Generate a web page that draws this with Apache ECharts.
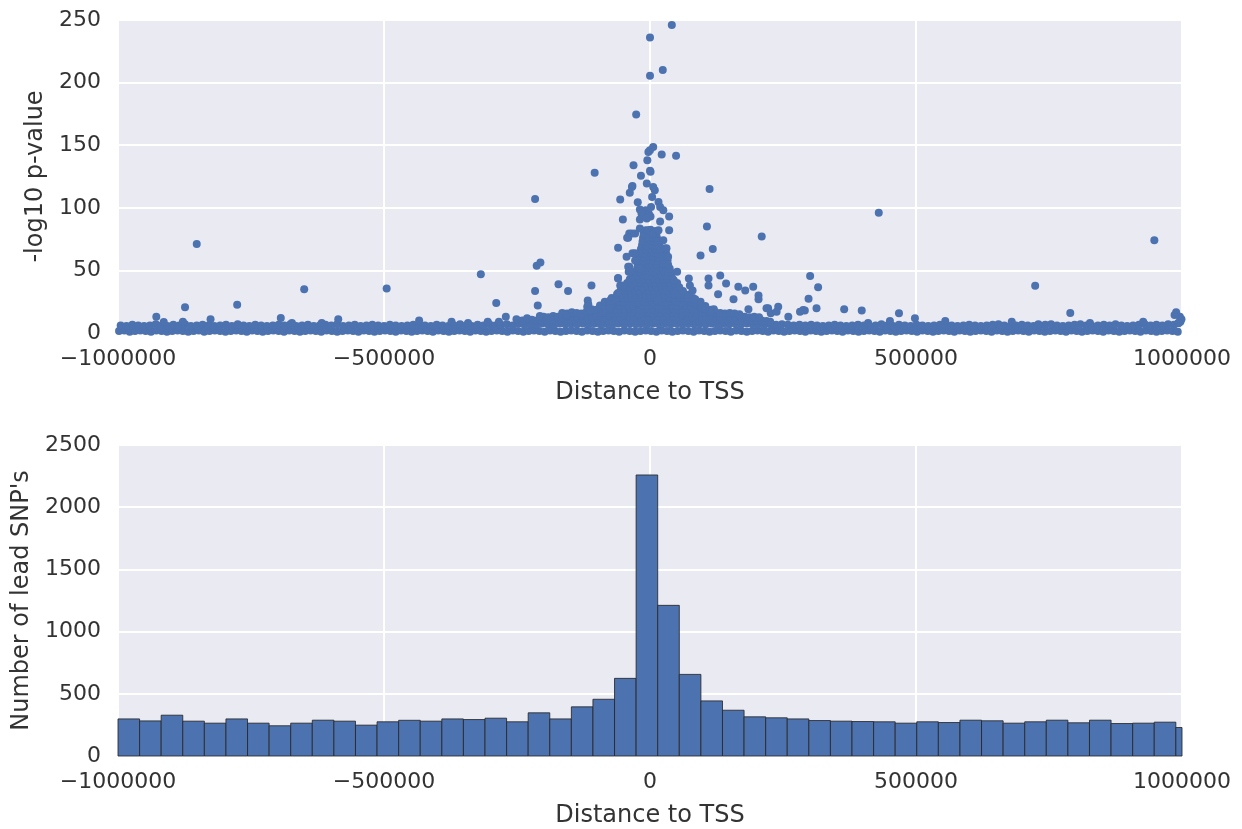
<!DOCTYPE html>
<html>
<head>
<meta charset="utf-8">
<script src="https://cdn.jsdelivr.net/npm/echarts@6/dist/echarts.min.js"></script>
<style>
html,body{margin:0;padding:0;background:#fff;}
#chart{width:1242px;height:829px;}
</style>
</head>
<body>
<div id="chart"></div>
<script>
// ---------- DATA ----------
const xAxisTitle = 'Distance to TSS';
const topYTitle = '-log10 p-value';
const bottomYTitle = "Number of lead SNP's";

// Scatter: [distance to TSS in kb, -log10 p-value]
// dense low band, bottom row
const bandLowKb = [
[-998,1.5],[-988,2],[-978,1],[-968,1.5],[-958,2],[-948,1.5],[-938,1],[-928,2],[-918,1.5],[-908,1],[-898,1.5],[-888,2],[-878,1.5],[-868,1],[-858,1.5],[-848,2],[-838,1],[-828,1.5],[-818,2],[-808,1.5],
[-798,1],[-788,1.5],[-778,2],[-768,1.5],[-758,1],[-748,2],[-738,1.5],[-728,1],[-718,1.5],[-708,2],[-698,1.5],[-688,1],[-678,2],[-668,1.5],[-658,1],[-648,1.5],[-638,2],[-628,1.5],[-618,1],[-608,2],
[-598,1.5],[-588,1],[-578,1.5],[-568,2],[-558,1.5],[-548,1],[-538,2],[-528,1.5],[-518,1],[-508,1.5],[-498,2],[-488,1.5],[-478,1],[-468,2],[-458,1.5],[-448,1],[-438,1.5],[-428,2],[-418,1.5],[-408,1],
[-398,2],[-388,1.5],[-378,1],[-368,1.5],[-358,2],[-348,1.5],[-338,1],[-328,2],[-318,1.5],[-308,1],[-298,1.5],[-288,2],[-278,1.5],[-268,1],[-258,2],[-248,1.5],[-238,1],[-228,1.5],[-218,2],[-208,1.5],
[-198,1],[-188,2],[-178,1.5],[-168,1],[-158,1.5],[-148,2],[-138,1.5],[-128,1],[-118,2],[-108,1.5],[-98,1],[-88,1.5],[-78,2],[-68,1.5],[-58,1],[-48,2],[-38,1.5],[-28,1],[-18,1.5],[-8,2],
[2,1.5],[12,1],[22,2],[32,1.5],[42,1],[52,1.5],[62,2],[72,1.5],[82,1],[92,2],[102,1.5],[112,1],[122,1.5],[132,2],[142,1.5],[152,1],[162,2],[172,1.5],[182,1],[192,1.5],
[202,2],[212,1.5],[222,1],[232,2],[242,1.5],[252,1],[262,1.5],[272,2],[282,1.5],[292,1],[302,2],[312,1.5],[322,1],[332,1.5],[342,2],[352,1.5],[362,1],[372,2],[382,1.5],[392,1],
[402,1.5],[412,2],[422,1.5],[432,1],[442,2],[452,1.5],[462,1],[472,1.5],[482,2],[492,1.5],[502,1],[512,2],[522,1.5],[532,1],[542,1.5],[552,2],[562,1.5],[572,1],[582,2],[592,1.5],
[602,1],[612,1.5],[622,2],[632,1.5],[642,1],[652,2],[662,1.5],[672,1],[682,1.5],[692,2],[702,1.5],[712,1],[722,2],[732,1.5],[742,1],[752,1.5],[762,2],[772,1.5],[782,1],[792,2],
[802,1.5],[812,1],[822,1.5],[832,2],[842,1.5],[852,1],[862,2],[872,1.5],[882,1],[892,1.5],[902,2],[912,1.5],[922,1],[932,2],[942,1.5],[952,1],[962,1.5],[972,2],[982,1.5],[992,1]
];
// dense low band, upper row (uneven top edge)
const bandHighKb = [
[-995,6],[-984,5.5],[-973,6.5],[-962,6],[-951,5.5],[-940,6],[-929,7],[-918,6],[-907,5.5],[-896,6.5],[-885,6],[-874,7],[-863,5.5],[-852,6],[-841,6.5],[-830,6],[-819,5.5],[-808,6],[-797,6.5],[-786,5.5],
[-775,7],[-764,6],[-753,5.5],[-742,6.5],[-731,6],[-720,5.5],[-709,6],[-698,6.5],[-687,6],[-676,7],[-665,5.5],[-654,6],[-643,6.5],[-632,5.5],[-621,6],[-610,6.5],[-599,6],[-588,7],[-577,5.5],[-566,6],
[-555,6.5],[-544,5.5],[-533,6],[-522,6.5],[-511,6],[-500,5.5],[-489,6.5],[-478,6],[-467,5.5],[-456,6],[-445,6.5],[-434,7],[-423,6],[-412,5.5],[-401,6.5],[-390,6],[-379,5.5],[-368,6],[-357,7],[-346,6],
[-335,5.5],[-324,6.5],[-313,6],[-302,7],[-291,6],[-280,6.5],[-269,7],[-258,6],[-247,7.5],[-236,6.5],[-225,7],[-214,6.5],[-203,7.5],[-192,7],[-181,6.5],[-170,7.5],[-159,7],[-148,7.5],[-137,7],[-126,7.5],
[-115,7],[-104,7.5],[-93,7],[-82,7.5],[-71,7],[-60,7.5],[-49,7],[-38,7.5],[-27,7],[-16,7.5],[-5,7],[6,7.5],[17,7],[28,7.5],[39,7],[50,7.5],[61,7],[72,7.5],[83,7],[94,7.5],
[105,7],[116,7.5],[127,7],[138,7.5],[149,7],[160,7.5],[171,7],[182,7.5],[193,7],[204,7],[215,6.5],[226,7],[237,6.5],[248,7],[259,6.5],[270,6],[281,6.5],[292,6],[303,6.5],[314,6],
[325,5.5],[336,6],[347,6.5],[358,6],[369,5.5],[380,6],[391,6.5],[402,6],[413,5.5],[424,6],[435,7],[446,6],[457,5.5],[468,6.5],[479,6],[490,5.5],[501,6.5],[512,6],[523,5.5],[534,6],
[545,6.5],[556,7],[567,6],[578,5.5],[589,6],[600,6.5],[611,6],[622,5.5],[633,6],[644,6.5],[655,7],[666,6],[677,5.5],[688,6],[699,6.5],[710,6],[721,5.5],[732,6],[743,6.5],[754,7],
[765,6],[776,5.5],[787,6],[798,6.5],[809,7],[820,6],[831,5.5],[842,6],[853,6.5],[864,6],[875,7],[886,6],[897,5.5],[908,6],[919,6.5],[930,7],[941,6],[952,6.5],[963,6],[974,7],
[985,6.5],[993,8],[997,9],[999,11],[996,13]
];
// dense cloud around the TSS
const coreKb = [
[-240,10],[-231,9.5],[-222,10.5],[-213,10],[-204,9.5],[-195,10.5],[-186,10],[-177,9.5],[-168,10.5],[-159,10],[-150,9.5],[-141,10.5],[-132,10],[-123,9.5],[-114,10.5],[-105,10],[-96,9.5],[-87,10.5],[-78,10],[-69,9.5],
[-60,10.5],[-51,10],[-42,9.5],[-33,10.5],[-24,10],[-15,9.5],[-6,10.5],[3,10],[12,9.5],[21,10.5],[30,10],[39,9.5],[48,10.5],[57,10],[66,9.5],[75,10.5],[84,10],[93,9.5],[102,10.5],[111,10],
[120,9.5],[129,10.5],[138,10],[147,9.5],[156,10.5],[165,10],[174,9.5],[183,10.5],[192,10],[201,9.5],[210,10],[219,9.5],[226,9],
[-200,13],[-191,12.5],[-182,13.5],[-173,13],[-164,12.5],[-155,13.5],[-146,13],[-137,12.5],[-128,13.5],[-119,13],[-110,12.5],[-101,13.5],[-92,13],[-83,12.5],[-74,13.5],[-65,13],[-56,12.5],[-47,13.5],[-38,13],[-29,12.5],
[-20,13.5],[-11,13],[-2,12.5],[7,13.5],[16,13],[25,12.5],[34,13.5],[43,13],[52,12.5],[61,13.5],[70,13],[79,12.5],[88,13.5],[97,13],[106,12.5],[115,13.5],[124,13],[133,12.5],[142,13.5],[151,13],
[160,12.5],[169,13.5],[178,13],[187,12.5],[196,13],[205,12.5],
[-165,16],[-156,15.5],[-147,16.5],[-138,16],[-129,15.5],[-120,16.5],[-111,16],[-102,15.5],[-93,16.5],[-84,16],[-75,15.5],[-66,16.5],[-57,16],[-48,15.5],[-39,16.5],[-30,16],[-21,15.5],[-12,16.5],[-3,16],[6,15.5],
[15,16.5],[24,16],[33,15.5],[42,16.5],[51,16],[60,15.5],[69,16.5],[78,16],[87,15.5],[96,16.5],[105,16],[114,15.5],[123,16.5],[132,16],[141,15.5],[150,16],[159,15.5],[168,15],
[-110,19],[-101,18.5],[-92,19.5],[-83,19],[-74,18.5],[-65,19.5],[-56,19],[-47,18.5],[-38,19.5],[-29,19],[-20,18.5],[-11,19.5],[-2,19],[7,18.5],[16,19.5],[25,19],[34,18.5],[43,19.5],[52,19],[61,18.5],
[70,19.5],[79,19],[88,18.5],[97,19.5],[106,19],[115,18.5],[120,19],
[-94,22],[-85,21.5],[-76,22.5],[-67,22],[-58,21.5],[-49,22.5],[-40,22],[-31,21.5],[-22,22.5],[-13,22],[-4,21.5],[5,22.5],[14,22],[23,21.5],[32,22.5],[41,22],[50,21.5],[59,22.5],[68,22],[77,21.5],
[86,22.5],[95,22],[104,21.5],
[-85,25],[-76,24.5],[-67,25.5],[-58,25],[-49,24.5],[-40,25.5],[-31,25],[-22,24.5],[-13,25.5],[-4,25],[5,24.5],[14,25.5],[23,25],[32,24.5],[41,25.5],[50,25],[59,24.5],[68,25.5],[77,25],[86,24.5],[95,25],
[-72,28],[-63,27.5],[-54,28.5],[-45,28],[-36,27.5],[-27,28.5],[-18,28],[-9,27.5],[0,28.5],[9,28],[18,27.5],[27,28.5],[36,28],[45,27.5],[54,28.5],[63,28],[72,27.5],[81,28],[85,27],
[-62,31],[-53,30.5],[-44,31.5],[-35,31],[-26,30.5],[-17,31.5],[-8,31],[1,30.5],[10,31.5],[19,31],[28,30.5],[37,31.5],[46,31],[55,30.5],[64,31],[72,30.5],
[-55,34],[-46,33.5],[-37,34.5],[-28,34],[-19,33.5],[-10,34.5],[-1,34],[8,33.5],[17,34.5],[26,34],[35,33.5],[44,34.5],[53,34],[62,33.5],
[-50,37],[-41,36.5],[-32,37.5],[-23,37],[-14,36.5],[-5,37.5],[4,37],[13,36.5],[22,37.5],[31,37],[40,36.5],[49,37],[55,36.5],
[-43,40],[-34,39.5],[-25,40.5],[-16,40],[-7,39.5],[2,40.5],[11,40],[20,39.5],[29,40.5],[38,40],[47,39.5],[51,40],
[-38,43],[-29,42.5],[-20,43.5],[-11,43],[-2,42.5],[7,43.5],[16,43],[25,42.5],[34,43.5],[43,43],[45,42],
[-32,46],[-23,45.5],[-14,46.5],[-5,46],[4,45.5],[13,46.5],[22,46],[31,45.5],[40,46],
[-28,49],[-19,48.5],[-10,49.5],[-1,49],[8,48.5],[17,49.5],[26,49],[35,48.5],[38,49],
[-24,52],[-15,51.5],[-6,52.5],[3,52],[12,51.5],[21,52.5],[30,52],[37,51.5],
[-23,55],[-14,54.5],[-5,55.5],[4,55],[13,54.5],[22,55.5],[31,55],[34,54.5],
[-21,58],[-12,57.5],[-3,58.5],[6,58],[15,57.5],[24,58.5],[33,58],
[-20,61],[-11,60.5],[-2,61.5],[7,61],[16,60.5],[25,61.5],[32,61],
[-19,64],[-10,63.5],[-1,64.5],[8,64],[17,63.5],[26,64.5],[30,64],
[-17,67],[-8,66.5],[1,67.5],[10,67],[19,66.5],[25,67],
[-15,70],[-6,69.5],[3,70.5],[12,70],[18,69.5],
[-14,73],[-5,72.5],[4,73.5],[13,73],
[-13,76],[-4,75.5],[5,76.5],[13,76],
[-12,79],[-3,78.5],[6,79.5],[12,79],
[-8,82],[1,82.5],[10,81.5]
];
// isolated strong associations
const outlierKb = [
[-852,71],[-928,13],[-874,20.5],[-826,11],[-878,9],[-914,8.8],[-776,22.6],[-694,12],[-650,35],[-586,11],[-495,35.5],[-434,10],[-617,8],[-673,8],[-373,9],[-342,8],[-305,9],[-284,9],[-251,11],
[-318,47],[-289,24],[-271,13],[-231,11.7],
[-216,107],[-216,33.5],[-211,22],[-213,53.7],[-206,56.4],[-207,13.5],[-172,39],[-154,33.5],[-157,14],[-110,38],[-117,26],[-116,23],[-118,21],[-113,18],[-75,26],[-74,23],[-75,19.7],[-104,128],
[41,246],[0,236],[0,205.5],[24,210],[-26,174.5],[6,148.6],[0,146],[-3,144.6],[22,142.5],[49,141.5],[-31,134],[-5,138],[1,128.7],[0,129.5],[-17,125.5],[-6,119.4],[6,116.7],[9,114],[-33,117.5],[-34,116.7],[-38,112],
[112,115],[4,108.7],[16,104.7],[-56,106.6],[-23,104.5],[-8,98],[-19,98.7],[2,100.7],[19,100.7],[25,98],[-16,95.5],[36,93],[1,93],[-2,95],[-3,92.8],[-51,90.7],[-19,90.7],[-6,91.5],[19,89],[36,82],
[107,85],[210,77],[-39,79.5],[-28,79.5],[-34,79.5],[-41,76],[-43,76],[-19,83.5],[-3,82],[6,79.5],[16,82],[-60,68],[25,74],[28,67.5],[31,67.6],[34,61],[118,67],[95,62],
[-28,63.6],[-33,63.6],[-44,61],[-28,58],[-19,51.6],[-39,53],[-41,53],[-40,49],[-38,49],[51,49],[-60,44],[-56,38],[-53,38],[-60,32],[-60,43.6],
[132,46],[143,39.6],[110,43.6],[110,38],[73,43.6],[75,38],[80,34],[128,31],[157,27],[166,37],[179,34],[194,37],[204,30],[204,27],[185,19],[222,19.7],[241,21],[227,15.7],[238,17],[219,19.7],
[260,13],[282,17],[291,18],[288,18.3],[301,45.5],[316,36.5],[298,27.4],[313,19.7],[97,21],[113,17],
[430,96],[948,74],[724,37.7],[365,19],[398,18],[468,15.7],[790,16],[986,14.4],[989,16.5],[498,11.7],[451,9.6],[555,9.6],[410,8],[680,9],[730,7],[927,9],[827,8],[994,8]
];

// Histogram: counts per bin (50 bins starting at -1,000,000 bp, width 40,580 bp)
const histBinStart = -1000000;
const histBinWidth = 40580;
const histCounts = [
298,282,328,280,264,298,264,243,264,288,
280,248,275,287,280,298,293,304,275,347,
298,395,456,624,2259,1211,656,443,368,315,
307,298,285,280,277,275,264,275,269,288,
283,264,275,288,267,288,261,264,272,229
];

// axis ticks
const xMin = -1000000, xMax = 1000000, xStep = 500000;
const topYMax = 250, topYStep = 50;
const bottomYMax = 2500, bottomYStep = 500;

// ---------- CHART ----------
const FONT = 'DejaVu Sans';
const TEXT = '#333333';
const BLUE = '#4C72B0';

const scatterData = [].concat(bandLowKb, bandHighKb, coreKb, outlierKb)
  .map(p => [p[0] * 1000, p[1]]);
const histData = histCounts.map((c, i) => [
  histBinStart + i * histBinWidth,
  histBinStart + (i + 1) * histBinWidth,
  c
]);

const fmtX = v => (v < 0 ? '\u2212' + Math.abs(v) : String(v));
const fmtY = v => String(v);

function xAxisCfg(gi) {
  return {
    gridIndex: gi, type: 'value', min: xMin, max: xMax, interval: xStep,
    name: xAxisTitle, nameLocation: 'middle', nameGap: 48,
    nameTextStyle: {fontFamily: FONT, fontSize: 24, color: TEXT},
    axisLine: {show: false}, axisTick: {show: false},
    axisLabel: {fontFamily: FONT, fontSize: 22, color: TEXT, margin: 15, formatter: fmtX,
                showMinLabel: true, showMaxLabel: true},
    splitLine: {show: true, lineStyle: {color: '#ffffff', width: 2}}
  };
}
function yAxisCfg(gi, max, step, name, gap) {
  return {
    gridIndex: gi, type: 'value', min: 0, max: max, interval: step,
    name: name, nameLocation: 'middle', nameGap: gap, nameRotate: 90,
    nameTextStyle: {fontFamily: FONT, fontSize: 24, color: TEXT},
    axisLine: {show: false}, axisTick: {show: false},
    axisLabel: {fontFamily: FONT, fontSize: 22, color: TEXT, margin: 17, formatter: fmtY,
                showMinLabel: true, showMaxLabel: true},
    splitLine: {show: true, lineStyle: {color: '#ffffff', width: 2}}
  };
}

const chart = echarts.init(document.getElementById('chart'), null, {renderer: 'canvas'});
chart.setOption({
  animation: false,
  backgroundColor: '#ffffff',
  grid: [
    {left: 118, top: 20, width: 1064, height: 313, show: true, backgroundColor: '#EAEAF2', borderWidth: 0},
    {left: 118, top: 445, width: 1064, height: 313, show: true, backgroundColor: '#EAEAF2', borderWidth: 0}
  ],
  xAxis: [xAxisCfg(0), xAxisCfg(1)],
  yAxis: [
    yAxisCfg(0, topYMax, topYStep, topYTitle, 70),
    yAxisCfg(1, bottomYMax, bottomYStep, bottomYTitle, 82)
  ],
  series: [
    {
      type: 'scatter', xAxisIndex: 0, yAxisIndex: 0,
      symbol: 'circle', symbolSize: 8, clip: true, silent: true,
      large: false, progressive: 0,
      itemStyle: {color: BLUE, opacity: 1},
      data: scatterData
    },
    {
      type: 'custom', xAxisIndex: 1, yAxisIndex: 1, silent: true,
      encode: {x: [0, 1], y: 2},
      data: histData,
      renderItem: function (params, api) {
        const p0 = api.coord([api.value(0), 0]);
        const p1 = api.coord([api.value(1), api.value(2)]);
        const cs = params.coordSys;
        const rect = echarts.graphic.clipRectByRect(
          {x: p0[0], y: p1[1], width: p1[0] - p0[0], height: p0[1] - p1[1]},
          {x: cs.x, y: cs.y, width: cs.width, height: cs.height}
        );
        return rect && {
          type: 'rect', shape: rect,
          style: {fill: BLUE, stroke: 'rgba(40,40,40,0.85)', lineWidth: 1}
        };
      }
    }
  ]
});
</script>
</body>
</html>
